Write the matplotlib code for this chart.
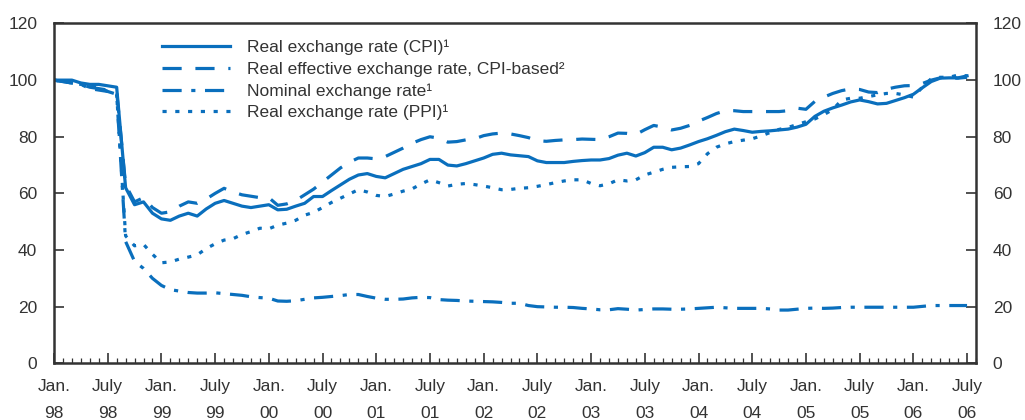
import matplotlib
matplotlib.use("Agg")
import matplotlib.pyplot as plt
from matplotlib.ticker import MultipleLocator, FixedLocator

plt.rcParams['font.family'] = ['Liberation Sans Narrow', 'Liberation Sans', 'DejaVu Sans']

# months since Jan. 1998
months = list(range(103))

real_cpi = [100, 100, 100, 99, 98.5, 98.5, 98, 97.5, 62, 56,
            57, 53, 51, 50.5, 52, 53, 52, 54.5, 56.5, 57.5,
            56.5, 55.5, 55, 55.5, 56, 54.2, 54.4, 55.5, 56.5, 58.9,
            58.9, 61, 63, 65, 66.5, 67, 66, 65.5, 67, 68.5,
            69.5, 70.5, 72, 72, 70, 69.7, 70.5, 71.5, 72.5, 73.8,
            74.2, 73.6, 73.3, 73.0, 71.5, 70.9, 70.9, 70.9, 71.3, 71.6,
            71.8, 71.8, 72.3, 73.5, 74.2, 73.2, 74.4, 76.3, 76.3, 75.4,
            76, 77.1, 78.3, 79.3, 80.5, 81.8, 82.7, 82.2, 81.6, 81.9,
            82.1, 82.4, 82.7, 83.4, 84.4, 87.2, 89, 90.2, 91.2, 92.3,
            93, 92.4, 91.6, 91.8, 92.8, 93.8, 95, 97.3, 99.5, 100.7,
            100.8, 100.8, 101.5]

reer_cpi = [100, 99.5, 99, 98.5, 97.5, 97, 96.5, 96, 63, 57,
            58.5, 55, 53, 53.5, 55.5, 57, 56.5, 58, 60, 61.8,
            60.5, 59.5, 59, 58.5, 58.5, 55.8, 56.3, 57.5, 59.5, 61.5,
            64, 66.5, 69, 71, 72.5, 72.5, 72.2, 73, 74.5, 76,
            77.7, 79, 80, 79.5, 78.1, 78.3, 78.9, 79.3, 80.4, 81,
            81.3, 81, 80.4, 79.7, 78.6, 78.4, 78.7, 78.9, 79, 79.2,
            79.1, 79, 80, 81.3, 81.2, 80.8, 82.5, 84, 83.4, 82.4,
            83, 84, 85.5, 86.8, 88.2, 89.2, 89.2, 88.9, 88.9, 88.9,
            88.9, 88.9, 89.2, 90.1, 89.7, 92.5, 94, 95.3, 96.3, 96.9,
            96.7, 95.8, 95.6, 96.8, 97.5, 98, 98.1, 98.8, 100, 100.8,
            100.7, 100.7, 101]

nominal = [100, 99.5, 99, 98.5, 97, 96.5, 96, 95, 43, 36,
           33.5, 30, 27.5, 26, 25.5, 25, 24.8, 24.8, 24.9, 24.6,
           24.3, 24, 23.5, 23.2, 23, 22, 21.9, 22.1, 22.6, 23.1,
           23.3, 23.6, 23.9, 24.3, 24.3, 23.6, 23, 22.6, 22.6, 22.7,
           23.1, 23.3, 23.2, 22.5, 22.3, 22.2, 22, 21.9, 21.8, 21.7,
           21.5, 21.2, 21.2, 20.4, 20, 19.9, 19.8, 19.8, 19.7, 19.4,
           19.2, 18.9, 18.9, 19.3, 19.1, 18.8, 19, 19.2, 19.2, 19.1,
           19.1, 19.2, 19.4, 19.6, 19.8, 19.6, 19.4, 19.4, 19.4, 19.4,
           19.2, 18.8, 18.8, 19.1, 19.4, 19.5, 19.4, 19.5, 19.7, 19.8,
           19.8, 19.8, 19.8, 19.8, 19.8, 19.8, 19.8, 20.1, 20.4, 20.4,
           20.4, 20.4, 20.4]

real_ppi = [100, 99.5, 99, 98.5, 98, 97.5, 96, 95, 45, 41.5,
            42, 38.5, 35.5, 35.8, 36.8, 37.5, 38.3, 40.5, 42.2, 43.5,
            44, 45.5, 46.5, 47.7, 47.5, 48.8, 49.5, 50.5, 52.3, 53.3,
            55, 56.8, 58.3, 59.8, 61.3, 60.5, 59.3, 58.9, 59.8, 60.8,
            61.6, 63.3, 64.8, 63.8, 62.6, 63.2, 63.5, 63.1, 62.6, 62,
            61.3, 61.4, 61.8, 62, 62.5, 63.1, 63.8, 64.4, 64.8, 64.8,
            63.5, 62.7, 63.4, 64.8, 64.4, 64.8, 66.5, 67.5, 68.5, 69.2,
            69.4, 69.5, 70.5, 74, 76.3, 77.5, 78.3, 78.8, 79.3, 80.3,
            81.5, 82.6, 83.3, 84.3, 85.3, 86.3, 87.8, 89.6, 93, 93.6,
            93.6, 94.2, 94.8, 95.3, 95.3, 94.8, 94, 97.5, 100.5, 101,
            101, 101.8, 101.5]

series_labels = ["Real exchange rate (CPI)\u00b9",
                 "Real effective exchange rate, CPI-based\u00b2",
                 "Nominal exchange rate\u00b9",
                 "Real exchange rate (PPI)\u00b9"]

tick_positions = list(range(0, 103, 6))
tick_labels = ["Jan.\n98", "July\n98", "Jan.\n99", "July\n99", "Jan.\n00", "July\n00",
               "Jan.\n01", "July\n01", "Jan.\n02", "July\n02", "Jan.\n03", "July\n03",
               "Jan.\n04", "July\n04", "Jan.\n05", "July\n05", "Jan.\n06", "July\n06"]

blue = '#0a6fbd'
text_col = '#333333'
lw = 2.3

fig = plt.figure(figsize=(10.25, 4.2), dpi=100)
ax = fig.add_axes([54/1025, 1 - 363.3/420, 922/1025, 339.8/420])

ax.plot(months, real_cpi, color=blue, lw=lw, linestyle='-', label=series_labels[0])
ax.plot(months, reer_cpi, color=blue, lw=lw, linestyle=(0, (6, 4.3)), label=series_labels[1])
ax.plot(months, nominal, color=blue, lw=lw, linestyle=(0, (6, 3, 1.3, 3)), label=series_labels[2])
ax.plot(months, real_ppi, color=blue, lw=lw, linestyle=(0, (1.3, 2.7)), label=series_labels[3])

ax.set_xlim(0, 103)
ax.set_ylim(0, 120)

for s in ax.spines.values():
    s.set_color('#333333')
    s.set_linewidth(1.8)

ax.xaxis.set_major_locator(FixedLocator(tick_positions))
ax.set_xticklabels(tick_labels, fontsize=12.5, color=text_col, linespacing=2.05)
ax.xaxis.set_minor_locator(MultipleLocator(1))
ax.tick_params(axis='x', which='major', direction='in', length=7, width=1.2,
               color='#333333', pad=11)
ax.tick_params(axis='x', which='minor', direction='in', length=3.5, width=0.9,
               color='#333333')

ax.yaxis.set_major_locator(MultipleLocator(20))
ax.tick_params(axis='y', which='major', direction='in', length=7, width=1.2,
               color='#333333', labelsize=12.5, labelcolor=text_col,
               left=True, right=True, labelleft=True, labelright=True, pad=12)

leg = ax.legend(loc='upper left', bbox_to_anchor=((162-54)/922, (363.3-40)/339.8),
                frameon=False, fontsize=12.5, handlelength=3.9, handletextpad=1.0,
                labelspacing=0.36, borderpad=0, borderaxespad=0)
for t in leg.get_texts():
    t.set_color(text_col)

fig.savefig('out.png', dpi=100)
